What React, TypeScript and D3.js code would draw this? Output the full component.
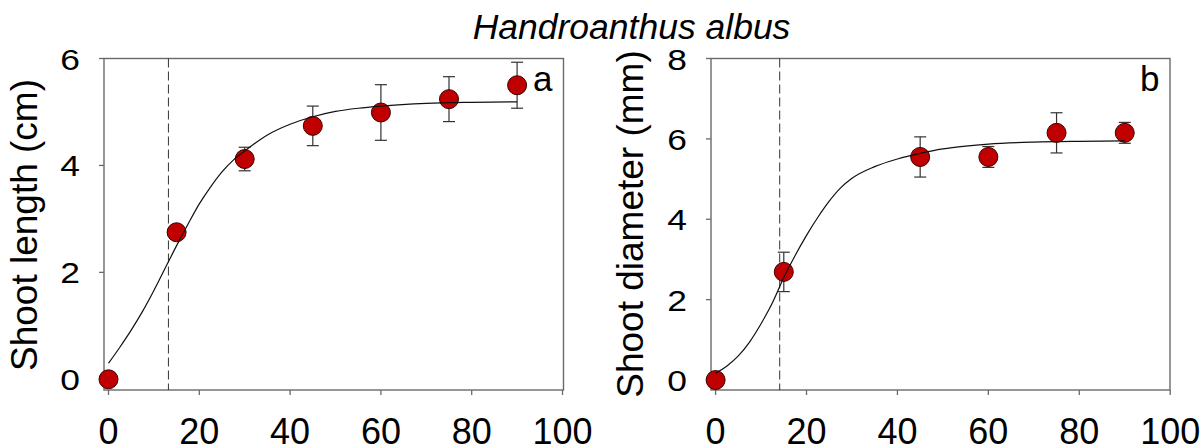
import React from "react";
import * as d3 from "d3";

const title = "Handroanthus albus";
const xTicks = [0, 20, 40, 60, 80, 100];

// Panel a: shoot length (cm)
const lengthDays = [0, 15, 30, 45, 60, 75, 90];
const lengthMean = [0, 2.75, 4.12, 4.74, 4.99, 5.24, 5.5];
const lengthErr = [0, 0, 0.22, 0.37, 0.52, 0.42, 0.43];
const lengthTicks = [0, 2, 4, 6];
const lengthCurveX = [0, 2.5, 5, 7.5, 10, 12.5, 15, 17.5, 20, 22.5, 25, 27.5, 30, 35, 40, 45, 50, 55, 60, 70, 80, 90];
const lengthCurveY = [0.3, 0.6, 0.92, 1.27, 1.66, 2.08, 2.5, 2.9, 3.28, 3.6, 3.88, 4.1, 4.27, 4.57, 4.77, 4.91, 5.01, 5.07, 5.11, 5.16, 5.18, 5.19];
const lengthMarker = 13.2;

// Panel b: shoot diameter (mm)
const diameterDays = [0, 15, 45, 60, 75, 90];
const diameterMean = [0, 2.69, 5.55, 5.55, 6.15, 6.15];
const diameterErr = [0, 0.49, 0.5, 0.26, 0.5, 0.26];
const diameterTicks = [0, 2, 4, 6, 8];
const diameterCurveX = [0, 2.5, 5, 7.5, 10, 12.5, 15, 17.5, 20, 22.5, 25, 27.5, 30, 35, 40, 45, 50, 55, 60, 70, 80, 90];
const diameterCurveY = [0.17, 0.35, 0.6, 0.95, 1.4, 1.92, 2.55, 3.1, 3.6, 4.05, 4.45, 4.78, 5.02, 5.31, 5.5, 5.64, 5.75, 5.82, 5.87, 5.92, 5.94, 5.95];
const diameterMarker = 14.1;

const FONT = "'Liberation Sans', Arial, sans-serif";

type PanelProps = {
  left: number;
  right: number;
  top: number;
  bottom: number;
  x0: number;
  x100: number;
  yZero: number;
  yMax: number;
  yTop: number;
  yTicks: number[];
  days: number[];
  mean: number[];
  err: number[];
  curveX: number[];
  curveY: number[];
  marker: number;
  yLabel: string;
  yLabelX: number;
  yLabelY: number;
  letter: string;
  letterX: number;
};

function Panel(p: PanelProps) {
  const x = d3.scaleLinear().domain([0, 100]).range([p.x0, p.x100]);
  const y = d3.scaleLinear().domain([0, p.yMax]).range([p.yZero, p.yTop]);
  const pts: [number, number][] = p.curveX.map((v, i) => [v, p.curveY[i]]);
  const line = d3
    .line<[number, number]>()
    .x((d) => x(d[0]))
    .y((d) => y(d[1]))
    .curve(d3.curveMonotoneX);
  const frame = "#6a6a6a";
  return (
    <g>
      {/* frame */}
      <rect x={p.left} y={p.top} width={p.right - p.left} height={p.bottom - p.top} fill="none" stroke={frame} strokeWidth={1.4} />
      {/* y ticks */}
      {p.yTicks.map((t) => (
        <g key={"yt" + t}>
          <line x1={p.left - 5} x2={p.left} y1={y(t)} y2={y(t)} stroke={frame} strokeWidth={1.3} />
          <g transform={`translate(${p.left - 24},${y(t) + 11}) scale(1.18,1)`}>
            <text x={0} y={0} textAnchor="end" fontFamily={FONT} fontSize={30} fill="#000">
              {t}
            </text>
          </g>
        </g>
      ))}
      {/* x ticks */}
      {xTicks.map((t) => (
        <g key={"xt" + t}>
          <line x1={x(t)} x2={x(t)} y1={p.bottom} y2={p.bottom + 5} stroke={frame} strokeWidth={1.3} />
          <text x={x(t)} y={444} textAnchor="middle" fontFamily={FONT} fontSize={36} fill="#000">
            {t}
          </text>
        </g>
      ))}
      {/* y label */}
      <text
        transform={`translate(${p.yLabelX},${p.yLabelY}) rotate(-90)`}
        textAnchor="middle"
        fontFamily={FONT}
        fontSize={37}
        fill="#000"
      >
        {p.yLabel}
      </text>
      {/* dashed marker */}
      <line x1={x(p.marker)} x2={x(p.marker)} y1={p.top} y2={p.bottom} stroke="#333" strokeWidth={1} strokeDasharray="9,4" />
      {/* error bars */}
      {p.days.map((d, i) =>
        p.err[i] > 0 ? (
          <g key={"e" + i} stroke="#333" strokeWidth={1.2}>
            <line x1={x(d)} x2={x(d)} y1={y(p.mean[i] - p.err[i])} y2={y(p.mean[i] + p.err[i])} />
            <line x1={x(d) - 6} x2={x(d) + 6} y1={y(p.mean[i] + p.err[i])} y2={y(p.mean[i] + p.err[i])} />
            <line x1={x(d) - 6} x2={x(d) + 6} y1={y(p.mean[i] - p.err[i])} y2={y(p.mean[i] - p.err[i])} />
          </g>
        ) : null
      )}
      {/* points */}
      {p.days.map((d, i) => (
        <circle key={"p" + i} cx={x(d)} cy={y(p.mean[i])} r={9.5} fill="#c00000" stroke="#3a0000" strokeWidth={1} />
      ))}
      {/* fitted curve */}
      <path d={line(pts) || ""} fill="none" stroke="#111" strokeWidth={1.2} />
      {/* panel letter */}
      <text x={p.letterX} y={90.5} fontFamily={FONT} fontSize={35} fill="#000">
        {p.letter}
      </text>
    </g>
  );
}

export default function App() {
  return (
    <svg width={1200} height={447} style={{ position: "absolute", left: 0, top: 0, background: "#fff" }}>
      <rect x={0} y={0} width={1200} height={447} fill="#fff" />
      <text x={631.5} y={39} textAnchor="middle" fontFamily={FONT} fontStyle="italic" fontSize={35.5} fill="#000">
        {title}
      </text>
      <Panel
        left={104}
        right={563.5}
        top={58.5}
        bottom={390}
        x0={108.5}
        x100={562.5}
        yZero={379.3}
        yMax={6}
        yTop={58.5}
        yTicks={lengthTicks}
        days={lengthDays}
        mean={lengthMean}
        err={lengthErr}
        curveX={lengthCurveX}
        curveY={lengthCurveY}
        marker={lengthMarker}
        yLabel="Shoot length (cm)"
        yLabelX={37}
        yLabelY={225}
        letter="a"
        letterX={533}
      />
      <Panel
        left={711}
        right={1170}
        top={58.5}
        bottom={390}
        x0={715.6}
        x100={1170.2}
        yZero={380}
        yMax={8}
        yTop={58.5}
        yTicks={diameterTicks}
        days={diameterDays}
        mean={diameterMean}
        err={diameterErr}
        curveX={diameterCurveX}
        curveY={diameterCurveY}
        marker={diameterMarker}
        yLabel="Shoot diameter (mm)"
        yLabelX={643}
        yLabelY={224}
        letter="b"
        letterX={1140}
      />
    </svg>
  );
}
